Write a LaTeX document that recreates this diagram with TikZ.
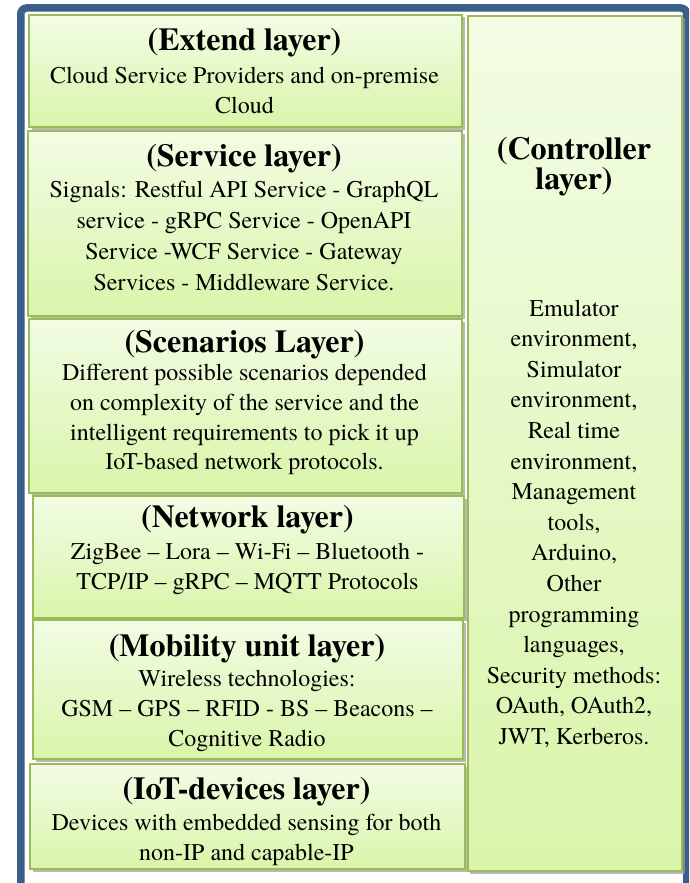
\documentclass[tikz,border=0pt]{standalone}
\usepackage{fontspec}
\setmainfont{texgyretermes}[Extension=.otf, UprightFont=*-regular, BoldFont=*-bold, ItalicFont=*-italic, BoldItalicFont=*-bolditalic]
\usetikzlibrary{shadows}
\definecolor{frameblue}{HTML}{3A5F8B}
\definecolor{boxline}{HTML}{9BBB59}
\definecolor{boxtop}{HTML}{F2FCE4}
\definecolor{boxbot}{HTML}{D9F5AA}
\definecolor{shadowgray}{HTML}{9A9A9A}
\begin{document}
\begin{tikzpicture}[x=1pt,y=-1pt,
  layerbox/.style={draw=boxline, line width=2pt, top color=boxtop, bottom color=boxbot,
    inner sep=0pt, anchor=north west,
    drop shadow={shadow xshift=2.5pt, shadow yshift=-2.5pt, fill=shadowgray, opacity=0.7}},
  ttl/.style={font=\fontsize{32}{34}\selectfont\bfseries, anchor=base, inner sep=0pt},
  bdy/.style={font=\fontsize{24}{30}\selectfont, anchor=base, inner sep=0pt}]
\useasboundingbox (0,0) rectangle (689,883);
\clip (0,0) rectangle (689,883);
\fill[white] (0,0) rectangle (689,883);
\draw[frameblue, line width=7.5pt, rounded corners=6pt] (20.75,8) rectangle (686.75,930);

% boxes
\node[layerbox, minimum width=433pt, minimum height=112pt] (extend) at (28,14) {};
\node[layerbox, minimum width=434pt, minimum height=185pt] (service) at (27,130) {};
\node[layerbox, minimum width=433pt, minimum height=174pt] (scen) at (28,318) {};
\node[layerbox, minimum width=431pt, minimum height=122pt] (netw) at (32,495) {};
\node[layerbox, minimum width=430pt, minimum height=139pt] (mobil) at (32,619) {};
\node[layerbox, minimum width=435pt, minimum height=105pt] (iot) at (29,763) {};
\node[layerbox, minimum width=214.5pt, minimum height=855pt] (ctrl) at (466.5,15) {};

% Extend
\node[ttl] (extT) at (244.5,51) {(Extend layer)};
\foreach \y/\t [count=\i] in {83/{Cloud Service Providers and on-premise},113/{Cloud}}
  \node[bdy] (ext\i) at (244.5,\y) {\t};

% Service
\node[ttl] (serT) at (244,166) {(Service layer)};
\foreach \y/\t [count=\i] in {197/{Signals: Restful API Service - GraphQL},
  228/{service - gRPC Service - OpenAPI},
  259/{Service -WCF Service - Gateway},
  290/{Services - Middleware Service.}}
  \node[bdy] (ser\i) at (244,\y) {\t};

% Scenarios
\node[ttl] (scnT) at (244.5,352) {(Scenarios Layer)};
\foreach \y/\t [count=\i] in {380/{Different possible scenarios depended},
  410/{on complexity of the service and the},
  440/{intelligent requirements to pick it up},
  469/{IoT-based network protocols.}}
  \node[bdy] (scn\i) at (244.5,\y) {\t};

% Network
\node[ttl] (netT) at (247.5,527) {(Network layer)};
\foreach \y/\t [count=\i] in {559/{ZigBee – Lora – Wi-Fi – Bluetooth -},
  589/{TCP/IP – gRPC – MQTT Protocols}}
  \node[bdy] (net\i) at (247.5,\y) {\t};

% Mobility
\node[ttl] (mobT) at (247,656) {(Mobility unit layer)};
\foreach \y/\t [count=\i] in {686/{Wireless technologies:},
  716/{GSM – GPS – RFID - BS – Beacons –},
  746/{Cognitive Radio}}
  \node[bdy] (mob\i) at (247,\y) {\t};

% IoT devices
\node[ttl] (iotT) at (246.5,799) {(IoT-devices layer)};
\foreach \y/\t [count=\i] in {830/{Devices with embedded sensing for both},
  860/{non-IP and capable-IP}}
  \node[bdy] (iot\i) at (246.5,\y) {\t};

% Controller
\node[ttl] (ctlT1) at (574,159) {(Controller};
\node[ttl] (ctlT2) at (574,189) {layer)};
\foreach \t [count=\i from 0] in {{Emulator},{environment,},{Simulator},{environment,},
  {Real time},{environment,},{Management},{tools,},{Arduino,},{Other},
  {programming},{languages,},{Security methods:},{OAuth, OAuth2,},{JWT, Kerberos.}}
  \node[bdy] (ctl\i) at (574,{316+30.6*\i}) {\t};
\end{tikzpicture}
\end{document}
